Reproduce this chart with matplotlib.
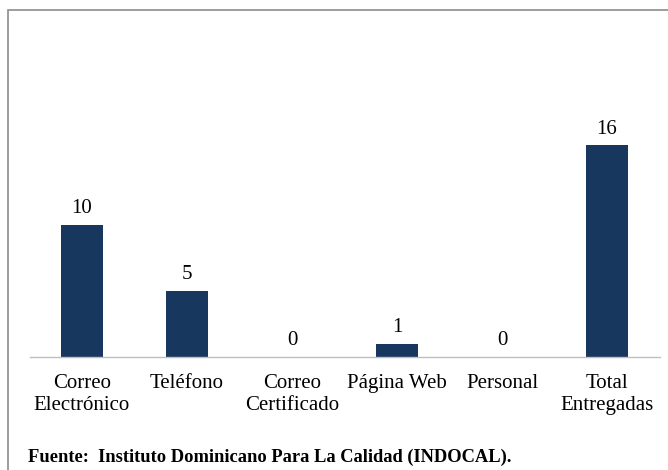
import matplotlib.pyplot as plt
from matplotlib.patches import Rectangle

categories = ['Correo\nElectrónico', 'Teléfono', 'Correo\nCertificado',
              'Página Web', 'Personal', 'Total\nEntregadas']
values = [10, 5, 0, 1, 0, 16]
fuente = 'Fuente:  Instituto Dominicano Para La Calidad (INDOCAL).'

plt.rcParams['font.family'] = ['Liberation Serif', 'DejaVu Serif']

fig = plt.figure(figsize=(6.68, 4.70), dpi=100)
# axes in pixel coordinates: x 29.5..659.5, baseline y=357, top y=119
W, H = 668, 470
ax = fig.add_axes([29.5 / W, (H - 357) / H, 630 / W, (357 - 119) / H])

x = range(len(categories))
ax.bar(x, values, width=0.4, color='#17375e')
for xi, v in zip(x, values):
    ax.annotate(str(v), (xi, v), xytext=(0, 5), textcoords='offset points',
                ha='center', va='bottom', fontsize=15)

ax.set_xlim(-0.5, len(categories) - 0.5)
ax.set_ylim(0, 18)
ax.set_xticks(list(x))
ax.set_xticklabels(categories, fontsize=15, linespacing=1.25)
ax.tick_params(axis='x', length=0, pad=12)
ax.set_yticks([])
for s in ['top', 'right', 'left']:
    ax.spines[s].set_visible(False)
ax.spines['bottom'].set_color('#bfbfbf')
ax.spines['bottom'].set_linewidth(1)

# outer frame (clipped at right and bottom)
fig.patches.append(Rectangle((7.5 / W, -0.1), 1.2, (H - 10.5) / H + 0.1,
                             transform=fig.transFigure, fill=False,
                             edgecolor='#8c8c8c', linewidth=1.2))

fig.text(28 / W, (H - 457) / H, fuente, fontsize=13.3, fontweight='bold',
         ha='left', va='center')

fig.savefig('out.png', dpi=100)
